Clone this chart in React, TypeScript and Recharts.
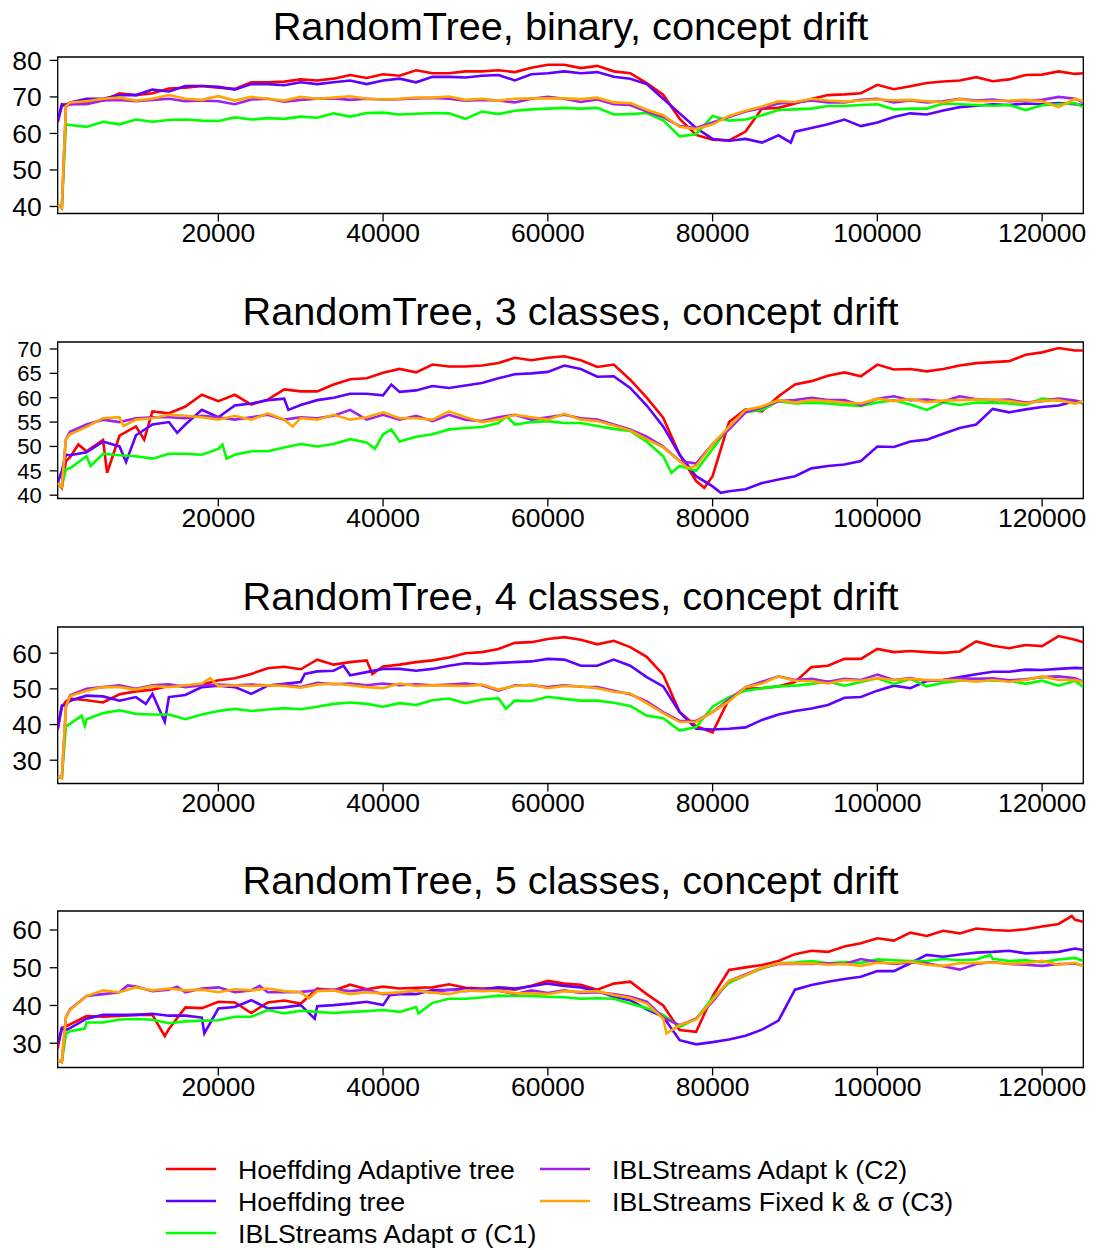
import React from "react";
import { LineChart, Line, XAxis, YAxis, ReferenceArea } from "recharts";

const FONT = '"Liberation Sans", Arial, Helvetica, sans-serif';

// ---- shared x positions (number of instances) ----
const xs = [
  500, 1000, 1500, 2000, 4000, 6000, 8000, 10000, 12000, 14000, 16000, 18000, 20000,
  22000, 24000, 26000, 28000, 30000, 32000, 34000, 36000, 38000, 40000, 42000, 44000,
  46000, 48000, 50000, 52000, 54000, 56000, 58000, 60000, 62000, 64000, 66000, 68000,
  70000, 72000, 74000, 76000, 78000, 80000, 82000, 84000, 86000, 88000, 90000, 92000,
  94000, 96000, 98000, 100000, 102000, 104000, 106000, 108000, 110000, 112000, 114000,
  116000, 118000, 120000, 122000, 124000, 125000,
];

const seriesNames = [
  "Hoeffding Adaptive tree",
  "Hoeffding tree",
  "IBLStreams Adapt σ (C1)",
  "IBLStreams Adapt k (C2)",
  "IBLStreams Fixed k & σ (C3)",
];
const seriesColors = ["#FF0000", "#6000FF", "#00FF00", "#A020F0", "#FFA500"];

const titles = [
  "RandomTree, binary, concept drift",
  "RandomTree, 3 classes, concept drift",
  "RandomTree, 4 classes, concept drift",
  "RandomTree, 5 classes, concept drift",
];

const xTicks = [20000, 40000, 60000, 80000, 100000, 120000];

// ---- Panel 1: binary ----
const p1Red = [63, 67.5, 68, 68, 68.5, 69, 71, 70.5, 71, 72.3, 72.5, 73, 72.5, 72.2, 74, 74, 74.2, 74.8, 74.5, 75, 76, 75.2, 76.2, 75.8, 77.3, 76.5, 76.5, 77, 77, 77.3, 76.8, 78, 78.8,
  78.8, 77.9, 78.5, 77, 76.5, 73.8, 70.6, 64, 59.6, 58.3, 58.1, 60.5, 66.8, 67, 68.2, 69.4, 70.5, 70.7, 71, 73.3, 72.1, 72.9, 73.8, 74.2, 74.5, 75.4, 74.3, 74.8, 76, 76.1, 77, 76.3, 76.5];
const p1Blue = [63.5, 68, 67.8, 68.5, 69.5, 69.5, 70.5, 70.5, 72, 71.5, 73, 73, 72.8, 72, 73.5, 73.5, 73.2, 74, 73.5, 74, 74.5, 73.5, 74.5, 75, 74, 75.5, 75.5, 75.3, 75.8, 76, 74.5, 76.2, 76.5,
  77, 76.5, 76.8, 75.5, 75, 73.5, 69.5, 65.5, 61.5, 58.5, 58, 58.5, 57.5, 59.5, 60.5, 61.5, 62.5, 63.8, 62, 63, 64.5, 65.5, 65.2, 66.3, 67.2, 67.6, 68, 67.8, 68.2, 68, 68.3, 68, 67.8];
const p1Green = [40.5, 39.5, 62.5, 62.3, 61.8, 63.2, 62.5, 63.8, 63.2, 63.7, 63.8, 63.5, 63.4, 64.4, 63.8, 64.2, 64, 64.6, 64.3, 65.5, 64.6, 65.6, 65.7, 65.2, 65.4, 65.6, 65.5, 64, 66, 65.3, 66.2, 66.6, 66.8,
  67, 66.8, 67, 65.2, 65.3, 65.6, 63.6, 59.2, 59.8, 64.8, 63.5, 63.8, 65, 66.4, 66.6, 66.8, 67.5, 67.5, 67.8, 68, 66.6, 66.8, 66.8, 68.2, 68, 67.8, 67.6, 67.8, 66.4, 67.7, 68, 68.3, 67.2];
const p1Purple = [40.5, 39.5, 67.5, 68, 68, 69, 69.2, 68.8, 69.2, 69.5, 68.8, 69, 68.8, 68, 69.3, 69.5, 68.7, 69.2, 69.5, 69.6, 69.2, 69.5, 69.3, 69.4, 69.6, 69.7, 69.5, 69, 69.2, 69, 68.5, 69.5, 70,
  69.5, 68.6, 69.3, 68, 67.8, 66, 64.5, 62, 61.5, 63, 64.5, 66, 67, 68.2, 68.5, 69, 68.5, 68.5, 69.2, 69.5, 68.5, 69, 68.5, 68.8, 69.5, 69, 69.3, 68.8, 69, 69.2, 70, 69.5, 68.5];
const p1Orange = [40.5, 39.5, 67.5, 68.5, 68.8, 69.5, 69.8, 69, 69.5, 70.5, 69.5, 69.2, 70.2, 69, 70, 69.5, 69, 70, 69.5, 69.8, 70.2, 69.5, 69.3, 69.5, 69.8, 69.8, 70.1, 69.2, 69.5, 69, 69.5, 69.6, 69.6,
  69.6, 69.4, 69.8, 68.5, 68.3, 66.5, 65, 61.8, 61.2, 62.5, 64.8, 66.2, 67.4, 68.8, 68.6, 69.5, 69, 68.7, 69, 69.3, 69.1, 69.2, 68.8, 68.5, 69.4, 68.8, 68.9, 69, 69.2, 68.8, 67.2, 69.5, 68.8];
const p1Spikes = [[], [[89500, 57.5]], [], [], []];

// ---- Panel 2: 3 classes ----
const p2Red = [42.5, 41.5, 47, 47.8, 49, 51.3, 52.2, 54.1, 57.2, 56.8, 58.2, 60.6, 59.3, 60.6, 58.6, 59.6, 61.7, 61.3, 61.3, 62.7, 63.8, 64, 65.1, 65.9, 65.2, 66.8, 66.4, 66.4, 66.6, 67.1, 68.2, 67.7, 68.2,
  68.5, 67.7, 66.3, 66.8, 63.7, 60, 55.9, 48.3, 42.9, 43.9, 55, 57.6, 57.2, 60.3, 62.7, 63.4, 64.5, 65.2, 64.4, 66.8, 65.8, 65.9, 65.4, 65.9, 66.6, 67.1, 67.3, 67.5, 68.8, 69.3, 70.2, 69.7, 69.7];
const p2Blue = [42.5, 45, 48.3, 48.2, 48.8, 51, 50, 52.3, 54.5, 55, 54.5, 57.5, 56, 58.4, 58.8, 59.5, 59.8, 58.5, 59.5, 60, 60.8, 60.8, 60.5, 61.2, 61.5, 62.4, 62, 62.5, 63, 64, 64.8, 65, 65.3,
  66.6, 65.9, 64.3, 64.4, 62, 58.4, 54.1, 48.3, 43.9, 41.8, 40.8, 41.2, 42.5, 43.2, 43.9, 45.5, 46, 46.3, 47, 50, 49.9, 51, 51.4, 52.6, 53.8, 54.5, 57.7, 57, 57.6, 58.1, 58.4, 59.3, 58.8];
const p2Green = [42, 42, 45.3, 45.5, 48, 48.5, 48.2, 48, 47.5, 48.5, 48.5, 48.3, 49.5, 48.3, 49, 49, 49.8, 50.5, 50, 50.5, 51.5, 50.8, 52.5, 51, 52, 52.5, 53.5, 53.8, 54, 54.8, 54.5, 55, 55.2,
  54.8, 54.8, 54.2, 53.6, 53.2, 51, 48, 46, 45, 49.5, 54, 57, 57.5, 59.3, 58.8, 59, 58.8, 58.5, 58.3, 59, 59.5, 58.6, 57.5, 59, 58.5, 59, 59, 58.8, 58.5, 59.8, 59.5, 59, 59];
const p2Purple = [42.5, 41.7, 51.5, 53, 54.5, 55.5, 55, 55.8, 56, 56, 55.8, 56.3, 56, 55.5, 56, 56.5, 55.5, 56, 55.8, 56.3, 57.5, 55.5, 56.5, 55.5, 56.3, 55.2, 56.5, 55.5, 55.2, 56, 56.5, 55.5, 56,
  56.5, 55.8, 55.5, 54.5, 53.5, 52, 50, 47, 46.5, 50.5, 53.5, 57, 58, 59.3, 59.5, 60, 59.5, 59.5, 58.5, 59.8, 60.3, 59.5, 59.6, 59.2, 60.3, 59.7, 59.5, 59.6, 59, 59.3, 59.8, 59.4, 59];
const p2Orange = [42.5, 41.7, 51.5, 52.5, 54, 55.8, 56, 55.5, 55.8, 56.5, 56.3, 56, 55.5, 56.3, 55.5, 56.8, 55.5, 55.8, 55.5, 56.5, 55.5, 56, 57, 55.8, 55.8, 55.5, 57.2, 56, 55, 55.5, 56.5, 56, 55.5,
  56.7, 55.5, 55.2, 54.3, 53.3, 51.5, 49.8, 47, 46, 50.5, 54, 57.5, 58.2, 59.5, 59, 59.5, 59.3, 59, 58.8, 59.8, 59.3, 59.7, 59.1, 59.4, 59.5, 59.6, 59.6, 59.3, 58.8, 59.4, 59.5, 58.8, 59.2];
const p2Spikes = [
  [[3000, 50.4], [6500, 44.6], [11000, 51.4], [79000, 41.5]],
  [[8800, 46.8], [15000, 52.8], [28500, 57.5], [41000, 62.7], [81000, 40.5]],
  [[4500, 46], [20500, 50.4], [21000, 47.5], [39000, 49.5], [41000, 53.5], [55000, 56.2], [75000, 44.6]],
  [],
  [[8500, 54.2], [29000, 54.1], [77000, 45.6]],
];

// ---- Panel 3: 4 classes ----
const p3Red = [38.5, 45, 46.5, 47.3, 46.8, 46.2, 48.5, 49.3, 49.8, 50.8, 50.8, 51.2, 52.4, 53, 54.2, 55.8, 56.2, 55.5, 58.2, 56.8, 57.5, 58, 56.3, 56.8, 57.5, 58, 58.8, 60, 60.3, 61.2, 62.9, 63.1, 64,
  64.5, 63.8, 62.5, 63.5, 61.7, 59, 54, 43.5, 39.5, 37.8, 47.2, 50, 50.2, 50.7, 51.9, 56.1, 56.5, 58.4, 58.4, 61.2, 60.3, 60.6, 60.3, 60.1, 60.5, 63.3, 62.1, 61.4, 62.3, 62, 64.8, 63.8, 63.1];
const p3Blue = [39, 45.3, 45.5, 46.7, 48.1, 47.9, 46.7, 47.7, 48.6, 47.7, 48.3, 50.5, 50.9, 50.5, 48.6, 50.9, 51.4, 51.9, 54.9, 55.1, 53.8, 54.7, 55.6, 55.6, 55.1, 55.6, 56.5, 57.2, 57, 57.3, 57.5, 57.7, 58.4,
  58.2, 56.5, 56.5, 58.2, 56.5, 53.3, 50.7, 43.5, 38.8, 38.6, 38.8, 39.2, 41.3, 42.8, 43.8, 44.5, 45.5, 47.5, 47.7, 49.5, 50.9, 50.2, 52.2, 52.5, 53.3, 54.1, 54.8, 54.8, 55.4, 55.3, 55.6, 55.9, 55.8];
const p3Green = [25.5, 25, 39.5, 40.2, 41.5, 43.2, 44, 43, 42.8, 42.8, 41.5, 42.8, 43.8, 44.4, 43.8, 44.2, 44.6, 44.3, 45, 45.8, 46.2, 45.8, 45, 46, 45.5, 46.8, 47.3, 46, 47, 47.4, 46.7, 46.6, 47.8,
  47.2, 46.7, 46.7, 46.1, 45.2, 42.5, 41.8, 38.3, 39.3, 45, 47.7, 49.5, 50.2, 50.7, 50.9, 51.4, 52.1, 50.9, 51.9, 53, 51.4, 52.8, 50.7, 51.7, 52.3, 52.8, 52.3, 52.3, 51.4, 52.3, 50.9, 52.3, 50.5];
const p3Purple = [25.5, 25, 45, 48.2, 50, 50.5, 51, 50, 51, 51.3, 50.5, 51, 51.2, 51, 51.2, 51, 51.2, 50.5, 51.7, 51.3, 51.5, 51, 51.5, 51, 51.3, 51, 51.2, 51.5, 51, 49.5, 51, 51, 50.5,
  51, 50.6, 50.5, 49.5, 48.5, 46.5, 43.5, 41, 41, 43.5, 47, 50.5, 52, 53.5, 52.5, 52.8, 52, 52.8, 52.5, 54, 52.5, 53, 52.2, 52.5, 53, 52.8, 53, 52.4, 52.7, 53.3, 53.5, 53, 52];
const p3Orange = [25.5, 25, 45, 48, 49.5, 50.5, 50.5, 49.8, 50.8, 50.5, 51, 51.5, 50.8, 51, 50.8, 51, 50.8, 50.3, 51.2, 51.5, 51, 50.5, 50.2, 51.5, 50.8, 51, 50.9, 50.8, 51.2, 49.8, 50.8, 51.2, 50.2,
  50.8, 50.7, 50.2, 49.2, 48.7, 46, 43.2, 40.7, 40.8, 43.5, 46.5, 50.5, 51.5, 53.5, 52.3, 52.2, 51.5, 52.5, 52.3, 53, 52.5, 52.8, 52.5, 52.5, 52.4, 52, 52.5, 52, 52.5, 53.5, 52.5, 52.5, 51.9];
const p3Spikes = [
  [[38700, 54.2]],
  [[11200, 45.8], [13500, 40.8], [30500, 54.2], [35200, 56.5]],
  [[3400, 42.5], [3800, 39.7], [54900, 44.4]],
  [],
  [[19000, 53]],
];

// ---- Panel 4: 5 classes ----
const p4Red = [28.6, 34, 34.5, 35, 37.2, 37, 37.2, 37.5, 37.5, 33.8, 39.5, 39.3, 41, 40.8, 38, 40.8, 41.3, 40.5, 44.5, 44, 45.5, 44.3, 45, 44.5, 44.7, 44.8, 45.6, 44.7, 44.5, 44.6, 44.2, 45.2, 46.5,
  45.8, 45.5, 44.2, 45.8, 46.3, 43, 40, 33.5, 33, 42.5, 49.4, 50.1, 50.7, 51.8, 53.6, 54.5, 54.2, 55.6, 56.5, 57.8, 57.2, 59.3, 58.4, 59.8, 59.1, 60.4, 60, 59.8, 60.2, 60.9, 61.6, 62.7, 62.2];
const p4Blue = [29.9, 34, 33.5, 34, 36.5, 37.5, 37.5, 37.5, 37.8, 37.3, 37.3, 36.8, 39.2, 39.6, 41.4, 39.2, 39.5, 40.1, 39.8, 40.1, 40.5, 41, 40.1, 43, 43, 44.1, 44.1, 44.5, 44.2, 44.8, 44.5, 45.1, 45.8,
  45.2, 44.8, 43.8, 42.3, 41.4, 39, 37, 30.8, 29.7, 30.3, 31, 32, 33.6, 36, 44.2, 45.4, 46.3, 47, 47.6, 49.1, 49.1, 51.2, 53.4, 52.9, 53.5, 54, 54.2, 54.5, 53.8, 54, 54.2, 55.1, 54.7];
const p4Green = [25.5, 25, 32.5, 33.2, 35.5, 35.5, 36.3, 36.4, 36.2, 35.3, 35.8, 36, 36.1, 37, 37, 38.8, 37.9, 38.6, 38.3, 38, 38.3, 38.5, 38.8, 38.3, 39.6, 40.7, 41.8, 41.8, 42.1, 42.6, 42.5, 42.5, 42.3,
  42.2, 41.8, 41.9, 41.8, 40.5, 39.3, 37.5, 34.3, 36.5, 42, 46, 48, 49.8, 51.2, 51.4, 51.8, 51.2, 51.5, 51.3, 52.2, 52, 51.8, 51.8, 52.3, 52, 52.2, 52.4, 51.8, 52, 51.5, 52.2, 52.6, 51.8];
const p4Purple = [25.5, 25, 37, 39, 42.5, 43, 43.5, 45, 43.8, 44.2, 43.5, 44.5, 44.8, 43.5, 44, 43.5, 43.5, 43.6, 44, 44.2, 43.8, 44.2, 43, 43.2, 44, 43.4, 44.2, 43.8, 44.3, 43.9, 43, 44, 43.3,
  44, 43.3, 43.5, 43, 42.3, 41, 36.8, 34.8, 36.5, 41, 46.5, 48.2, 50, 51, 51, 51, 51.2, 51, 52.3, 51.5, 51, 51.4, 51.2, 50.4, 49.5, 51, 51.5, 51, 50.8, 50.5, 51, 51.1, 50.5];
const p4Orange = [25.5, 25, 37, 38.8, 42.5, 44, 43.5, 44.8, 44, 44.5, 44, 44.2, 43.5, 44.3, 44, 44.5, 43.8, 43.5, 43.8, 44, 43, 43.5, 43.2, 43.5, 43.9, 43.4, 43, 44, 43.8, 43.9, 43.2, 43.2, 43,
  43.8, 43.6, 43.8, 42.8, 42, 40.5, 36.5, 34.8, 36.3, 41.5, 46.5, 48, 50, 51.2, 51.1, 51.2, 50.8, 51, 50.5, 51.3, 51.2, 51.6, 50.8, 50.5, 51.2, 51.3, 51.4, 51.1, 51.2, 51.8, 50.8, 51.3, 50.4];
const p4Spikes = [
  [[13500, 31.9], [123600, 63.7]],
  [[18300, 32.6], [31700, 36.5], [40800, 42.7]],
  [[3800, 33.9], [44300, 37.9], [113700, 53.4]],
  [[9000, 45.3], [15000, 45], [25000, 45.2]],
  [[31000, 41.9], [74400, 32.6]],
];

const p1YTicks = [40, 50, 60, 70, 80];
const p2YTicks = [40, 45, 50, 55, 60, 65, 70];
const p3YTicks = [30, 40, 50, 60];
const p4YTicks = [30, 40, 50, 60];

type Pt = { x: number; y: number };
function build(xv: number[], yv: number[], extra: number[][]): Pt[] {
  const pts: Pt[] = xv.map((x, i) => ({ x, y: yv[i] }));
  extra.forEach(([x, y]) => pts.push({ x, y }));
  pts.sort((a, b) => a.x - b.x);
  return pts;
}

const TICK_FS = 26.5;

const panels = [
  { top: 57.3, domain: [38.08, 80.93], yTicks: p1YTicks, yFs: TICK_FS, values: [p1Red, p1Blue, p1Green, p1Purple, p1Orange], spikes: p1Spikes },
  { top: 342.3, domain: [39.32, 71.43], yTicks: p2YTicks, yFs: 22, values: [p2Red, p2Blue, p2Green, p2Purple, p2Orange], spikes: p2Spikes },
  { top: 626.5, domain: [23.47, 67.35], yTicks: p3YTicks, yFs: TICK_FS, values: [p3Red, p3Blue, p3Green, p3Purple, p3Orange], spikes: p3Spikes },
  { top: 911, domain: [23.57, 65.03], yTicks: p4YTicks, yFs: TICK_FS, values: [p4Red, p4Blue, p4Green, p4Purple, p4Orange], spikes: p4Spikes },
];

const PLOT_H = 156.5;
const MT = 10;
const XAXIS_H = 40;

function Panel({ top, domain, yTicks, yFs, values, spikes }: any) {
  const tickStyle = { fill: "#000", fontSize: TICK_FS, fontFamily: FONT };
  const yTickStyle = { fill: "#000", fontSize: yFs, fontFamily: FONT };
  return (
    <div style={{ position: "absolute", left: 0, top: top - MT }}>
      <LineChart
        width={1096}
        height={MT + PLOT_H + XAXIS_H}
        margin={{ top: MT, right: 12.7, bottom: 0, left: 0 }}
      >
        <XAxis
          dataKey="x"
          type="number"
          domain={[500, 125000]}
          ticks={xTicks}
          interval={0}
          allowDataOverflow
          axisLine={false}
          tickLine={{ stroke: "#000", strokeWidth: 1.3 }}
          tickSize={8}
          tickMargin={2}
          tick={tickStyle}
          height={XAXIS_H}
        />
        <YAxis
          type="number"
          domain={domain}
          ticks={yTicks}
          interval={0}
          allowDataOverflow
          axisLine={false}
          tickLine={{ stroke: "#000", strokeWidth: 1.3 }}
          tickSize={8}
          tickMargin={8}
          tick={yTickStyle}
          width={57.7}
        />
        <ReferenceArea
          x1={500}
          x2={125000}
          y1={domain[0]}
          y2={domain[1]}
          fill="none"
          fillOpacity={0}
          stroke="#000"
          strokeWidth={1.3}
          ifOverflow="visible"
        />
        {values.map((vals: number[], i: number) => (
          <Line
            key={seriesNames[i]}
            name={seriesNames[i]}
            data={build(xs, vals, spikes[i])}
            dataKey="y"
            type="linear"
            stroke={seriesColors[i]}
            strokeWidth={2.6}
            dot={false}
            activeDot={false}
            isAnimationActive={false}
          />
        ))}
      </LineChart>
    </div>
  );
}

const titleBaselines = [40, 325, 609.5, 894];
const legendItems = [
  { col: 0, row: 0, s: 0 },
  { col: 0, row: 1, s: 1 },
  { col: 0, row: 2, s: 2 },
  { col: 1, row: 0, s: 3 },
  { col: 1, row: 1, s: 4 },
];
const legendColX = [166, 540];
const legendRowY = [1169, 1201, 1233];

export default function App() {
  return (
    <div
      style={{
        position: "absolute",
        left: 0,
        top: 0,
        width: 1096,
        height: 1250,
        background: "#fff",
        fontFamily: FONT,
        overflow: "hidden",
      }}
    >
      {panels.map((p, i) => (
        <Panel key={i} {...p} />
      ))}
      <svg
        width={1096}
        height={1250}
        style={{ position: "absolute", left: 0, top: 0, pointerEvents: "none" }}
      >
        {titles.map((t, i) => (
          <text
            key={t}
            x={570.5}
            y={titleBaselines[i]}
            textAnchor="middle"
            fontSize={39.7}
            fontFamily={FONT}
            fill="#000"
          >
            {t}
          </text>
        ))}
        {legendItems.map((it) => (
          <g key={it.s}>
            <line
              x1={legendColX[it.col]}
              x2={legendColX[it.col] + 50}
              y1={legendRowY[it.row]}
              y2={legendRowY[it.row]}
              stroke={seriesColors[it.s]}
              strokeWidth={2.6}
            />
            <text
              x={legendColX[it.col] + 72}
              y={legendRowY[it.row] + 9.5}
              fontSize={26.7}
              fontFamily={FONT}
              fill="#000"
            >
              {seriesNames[it.s]}
            </text>
          </g>
        ))}
      </svg>
    </div>
  );
}
